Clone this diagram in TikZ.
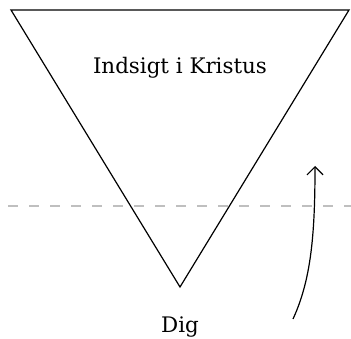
\documentclass[tikz,border=0pt]{standalone}
\usepackage{fontspec}
\setmainfont{DejaVu Serif}
\usetikzlibrary{arrows.meta}

\begin{document}
\begin{tikzpicture}[x=1pt, y=-1pt,
    line width=1.2pt,
    label/.style={font=\fontsize{21.4}{24}\selectfont, inner sep=0pt, anchor=base}]
    \useasboundingbox (0,0) rectangle (351,339);

    \coordinate (TL) at (11,10);
    \coordinate (TR) at (349,10);
    \coordinate (V) at (180,287);

    % dashed level line
    \draw[gray!50, line width=2pt, dash pattern=on 10pt off 11pt] (8,206) -- (351,206);

    \draw[line join=miter] (TL) -- (TR) -- (V) -- cycle;

    \node[label] (insight) at (180,74) {Indsigt i Kristus};
    \node[label] (dig) at (180,333) {Dig};

    \coordinate (from) at (293,319);
    \coordinate (to) at (315,166);
    \draw[-{Straight Barb[length=8pt, width=16pt]}]
        (from) .. controls (311,280) and (315,235) .. (to);
\end{tikzpicture}
\end{document}
